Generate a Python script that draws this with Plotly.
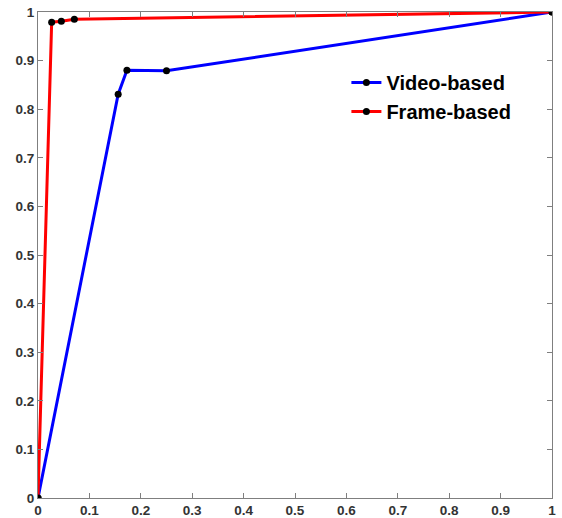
import plotly.graph_objects as go

video_x = [0, 0.156, 0.173, 0.25, 1]
video_y = [0, 0.831, 0.880, 0.879, 1]
frame_x = [0, 0.0266, 0.0454, 0.0707, 1]
frame_y = [0, 0.979, 0.981, 0.985, 1]
ticks = [0, 0.1, 0.2, 0.3, 0.4, 0.5, 0.6, 0.7, 0.8, 0.9, 1]
tick_labels = ["0", "0.1", "0.2", "0.3", "0.4", "0.5", "0.6", "0.7", "0.8", "0.9", "1"]

fig = go.Figure()
fig.add_trace(go.Scatter(x=video_x, y=video_y, mode="lines+markers", name="Video-based",
                         line=dict(color="#0000ff", width=3),
                         marker=dict(color="black", size=7)))
fig.add_trace(go.Scatter(x=frame_x, y=frame_y, mode="lines+markers", name="Frame-based",
                         line=dict(color="#ff0000", width=3),
                         marker=dict(color="black", size=7)))

axis_common = dict(range=[0, 1], tickvals=ticks, ticktext=tick_labels, automargin=False,
                   ticklabeloverflow="allow",
                   showgrid=False, zeroline=False, showline=True, linecolor="#7f7f7f",
                   linewidth=1, mirror="ticks", ticks="inside", ticklen=5,
                   tickcolor="#7f7f7f",
                   tickfont=dict(family="Liberation Sans", size=13.5, color="#333333", weight="bold"))

fig.update_layout(
    width=562, height=518,
    margin=dict(l=38, r=10, t=12, b=20),
    paper_bgcolor="white", plot_bgcolor="white",
    xaxis=dict(**axis_common),
    yaxis=dict(**axis_common),
    legend=dict(x=0.60, y=0.895, xanchor="left", yanchor="top",
                bgcolor="rgba(0,0,0,0)",
                font=dict(family="Liberation Sans", size=20, color="black", weight="bold"),
                itemwidth=30, tracegroupgap=0),
    showlegend=True,
)
fig.write_html("out.html", config={"displayModeBar": False},
               post_script="document.body.style.margin='0';")
